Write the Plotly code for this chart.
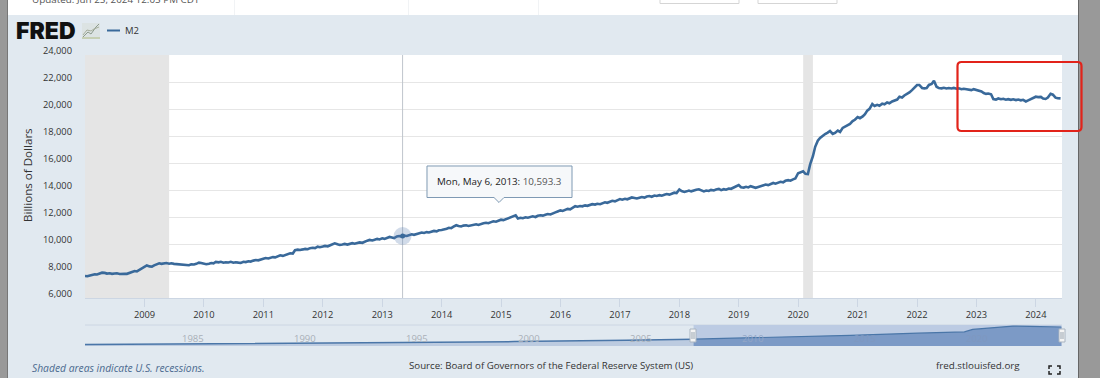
import pandas as pd
import plotly.graph_objects as go

# ---------- data ----------
m2_values = [
 7630,7610,7670,7710,7760,7740,7810,7875,7860,7810,7830,7790,7820,7830,7780,7810,7800,7790,7850,7890,8000,7970,8090,8220,
 8370,8410,8340,8320,8420,8510,8570,8530,8560,8590,8540,8570,8530,8510,8540,8500,8440,8470,8430,8490,8480,8530,8620,8590,
 8560,8500,8540,8590,8570,8670,8640,8680,8610,8650,8630,8680,8610,8650,8620,8600,8680,8660,8720,8700,8770,8810,8790,8850,
 8900,8960,8930,8980,9030,9010,9090,9160,9120,9190,9260,9310,9290,9540,9580,9560,9600,9640,9610,9690,9720,9700,9800,9760,
 9810,9860,9830,9900,9950,10050,9980,9930,9970,10010,9960,10030,10060,10020,10090,10120,10090,10180,10250,10300,10260,10310,10380,10340,
 10420,10380,10470,10520,10480,10440,10560,10593,10560,10620,10590,10660,10720,10680,10750,10790,10850,10820,10880,10850,10930,10970,10940,11020,
 11040,11070,11130,11200,11170,11280,11390,11340,11300,11360,11390,11340,11400,11430,11460,11410,11490,11530,11570,11540,11620,11680,11650,11730,
 11800,11770,11860,11930,11990,12060,12120,11890,11940,11910,11980,11950,12010,12050,12000,12090,12130,12100,12170,12220,12190,12280,12340,12410,
 12490,12450,12530,12600,12570,12680,12800,12760,12810,12790,12860,12830,12900,12950,12920,12980,12950,13030,13090,13050,13130,13200,13160,13260,
 13330,13280,13350,13310,13400,13450,13410,13370,13430,13480,13440,13520,13550,13500,13590,13560,13620,13580,13650,13700,13660,13740,13800,13770,
 14040,13920,13860,13900,13960,13900,13980,14020,14050,13980,13900,13960,13930,14010,13970,14030,14080,13990,14060,14020,14110,14090,14180,14260,
 14370,14210,14180,14240,14190,14280,14230,14160,14220,14290,14340,14400,14360,14450,14520,14470,14560,14610,14570,14680,14730,14690,14790,14850,
 15240,15330,15380,15200,15180,15900,16500,17200,17650,17850,18040,18150,18250,18370,18150,18230,18400,18300,18600,18700,18850,18900,19100,19200,
 19400,19320,19450,19620,19880,20010,20370,20220,20310,20240,20400,20350,20480,20420,20560,20620,20700,20910,20850,21000,21100,21230,21400,21600,
 21780,21780,21560,21530,21560,21780,21850,22090,21650,21550,21530,21570,21520,21550,21520,21560,21500,21530,21470,21500,21450,21430,21400,21470,
 21420,21390,21300,21180,21120,21150,21090,20740,20700,20780,20720,20760,20690,20730,20680,20720,20660,20700,20640,20680,20560,20640,20730,20790,
 20910,20880,20900,20770,20740,20850,21130,21060,20840,20800,20790,
]
m2_dates = pd.date_range("2008-01-01", periods=len(m2_values), freq="SMS")

overview_dates = ["1980-11-03","1985-01-01","1990-01-01","1995-01-01","2000-01-01","2005-01-01","2008-01-01"]
overview_values = [1600,2400,3200,3600,4800,6400,7500]
selected_dates = ["2008-01-01","2010-01-01","2012-01-01","2015-01-01","2018-01-01","2020-02-01","2020-06-15","2021-01-01","2022-04-01","2023-01-01","2024-06-01"]
selected_values = [7500,8500,9800,11700,14000,15400,18200,19400,21800,21400,20800]
nav_labels = ["1985","1990","1995","2000","2005","2010","2015","2020"]
nav_label_dates = ["1985-01-01","1990-01-01","1995-01-01","2000-01-01","2005-01-01","2010-01-01","2015-01-01","2020-01-01"]
nav_label_colors = ["#A9B0B8","#A9B0B8","#A9B0B8","#A9B0B8","#A9B0B8","#93A6C6","#7F98C0","#7F98C0"]

recessions = [("2008-01-01","2009-06-01"),("2020-02-01","2020-04-01")]
y_ticks = [6000,8000,10000,12000,14000,16000,18000,20000,22000,24000]
y_range = [6000, 24000]
x_ticks = [f"{y}-01-01" for y in range(2009,2025)]
x_labels = [str(y) for y in range(2009,2025)]
hover_date = "2013-05-06"
hover_value = 10593.3

# ---------- helpers ----------
W, H = 1100, 378
FONT = "Open Sans"
BG = "#E1E9F0"
LINE = "#39699A"
px = lambda x: x / W
py = lambda y: 1 - y / H

def rect(x0, y0, x1, y1, fill, line=None, lw=0, layer="below"):
    return dict(type="rect", xref="paper", yref="paper", x0=px(x0), x1=px(x1), y0=py(y0), y1=py(y1),
                fillcolor=fill, line=dict(color=line or fill, width=lw), layer=layer)

def poly(points, stroke, lw=1, fill=None, close=False, layer="above"):
    p = "M " + " L ".join(f"{px(a):.5f} {py(b):.5f}" for a, b in points) + (" Z" if close else "")
    return dict(type="path", xref="paper", yref="paper", path=p, fillcolor=fill,
                line=dict(color=stroke, width=lw), layer=layer)

def txt(x, y, text, size=10.5, color="#333333", anchor="left", **font):
    return dict(xref="paper", yref="paper", x=px(x), y=py(y), text=text, showarrow=False, xanchor=anchor,
                yanchor="middle", font=dict(family=font.pop("family", FONT), size=size, color=color, **font),
                borderpad=0, borderwidth=0)

fig = go.Figure()

# navigator
fig.add_trace(go.Scatter(x=overview_dates, y=overview_values, xaxis="x2", yaxis="y2", mode="lines",
                         line=dict(color="#4A76A8", width=1.5), fill="tozeroy",
                         fillcolor="rgba(120,150,195,0.35)", hoverinfo="skip", showlegend=False))
fig.add_trace(go.Scatter(x=selected_dates, y=selected_values, xaxis="x2", yaxis="y2", mode="lines",
                         line=dict(color="#4A76A8", width=1.2), fill="tozeroy",
                         fillcolor="#7C9AC6", hoverinfo="skip", showlegend=False))
# main series
fig.add_trace(go.Scatter(x=m2_dates, y=m2_values, mode="lines", name="M2",
                         line=dict(color=LINE, width=2.6), showlegend=False))
fig.add_trace(go.Scatter(x=[hover_date], y=[hover_value], mode="markers", showlegend=False, hoverinfo="skip",
                         marker=dict(size=18, color="rgba(90,125,175,0.28)")))
fig.add_trace(go.Scatter(x=[hover_date], y=[hover_value], mode="markers", showlegend=False, hoverinfo="skip",
                         marker=dict(size=5, color=LINE)))

shapes = [
    rect(0, 0, W, 15, "#FFFFFF"),
    rect(0, 0, 7, H, "#999999"),
    rect(1079, 0, W, H, "#999999"),
    rect(7, 0, 8, H, "#777777"),
    rect(1078, 0, 1079, H, "#666666"),
    rect(234.5, 0, 235, 15, "#E4E8EC"),
    rect(408.5, 0, 409, 15, "#E4E8EC"),
    rect(538.5, 0, 539, 15, "#E4E8EC"),
    dict(type="rect", xref="paper", yref="paper", x0=px(660), x1=px(739), y0=py(3.5), y1=py(-6),
         fillcolor="#FFFFFF", line=dict(color="#D5D5D5", width=1), layer="below"),
    dict(type="rect", xref="paper", yref="paper", x0=px(758), x1=px(837), y0=py(3.5), y1=py(-6),
         fillcolor="#FFFFFF", line=dict(color="#D5D5D5", width=1), layer="below"),
    rect(85, 55, 1062, 298, "#FFFFFF"),
    poly([(85, 325), (1062, 325)], "#CCD6E3", 1, layer="below"),
]
for a, b in recessions:
    shapes.append(dict(type="rect", xref="x", yref="y", x0=a, x1=b, y0=y_range[0], y1=y_range[1],
                       fillcolor="#E5E5E5", line=dict(width=0), layer="between"))
# crosshair
shapes.append(dict(type="line", xref="x", yref="y", x0=hover_date, x1=hover_date, y0=y_range[0], y1=y_range[1],
                   line=dict(color="#BFC5CC", width=1), layer="between"))
# navigator selection band
shapes.append(dict(type="rect", xref="x2", yref="y2", x0=selected_dates[0], x1=selected_dates[-1], y0=0, y1=23000,
                   fillcolor="#BCCBE3", line=dict(width=0), layer="between"))
# navigator handles
for hx in (693, 1062):
    shapes.append(rect(hx - 3, 329, hx + 3, 342, "#F4F4F4", "#A9B4C0", 1, "above"))
    shapes.append(poly([(hx - 1, 332), (hx - 1, 339)], "#9AA6B2", 1))
    shapes.append(poly([(hx + 1, 332), (hx + 1, 339)], "#9AA6B2", 1))
# legend key
shapes.append(poly([(107, 30.5), (120, 30.5)], LINE, 2))
# logo icon
shapes.append(rect(82, 23, 100, 39, "#DCE3E3", layer="above"))
shapes.append(poly([(83, 37), (88, 32), (91, 34), (96, 27), (99, 24)], "#8C9A8C", 1))
shapes.append(poly([(83, 35), (87, 30), (91, 31), (94, 29), (99, 27)], "#A6AE9C", 1))
shapes.append(rect(82, 37, 100, 39, "#C6CFB4", layer="above"))
# tooltip
shapes.append(poly([(427, 166), (572, 166), (572, 197.5), (504, 197.5), (499, 202.5), (494, 197.5), (427, 197.5)],
                   "#7F9AB4", 1, fill="#F6F8FA", close=True))
# fullscreen icon
for pts in ([(1049, 369), (1049, 366), (1052, 366)], [(1057, 366), (1060, 366), (1060, 369)],
            [(1049, 371), (1049, 374), (1052, 374)], [(1057, 374), (1060, 374), (1060, 371)]):
    shapes.append(poly(pts, "#222222", 1.5))
# highlight box
x0, x1, y0, y1, r = 957.5, 1081.5, 62, 131, 4
shapes.append(dict(type="path", xref="paper", yref="paper", layer="above", line=dict(color="#E2231A", width=2.2),
    path=(f"M {px(x0+r)} {py(y0)} L {px(x1-r)} {py(y0)} Q {px(x1)} {py(y0)} {px(x1)} {py(y0+r)} "
          f"L {px(x1)} {py(y1-r)} Q {px(x1)} {py(y1)} {px(x1-r)} {py(y1)} L {px(x0+r)} {py(y1)} "
          f"Q {px(x0)} {py(y1)} {px(x0)} {py(y1-r)} L {px(x0)} {py(y0+r)} Q {px(x0)} {py(y0)} {px(x0+r)} {py(y0)} Z")))

annotations = [
    txt(32, -1, "Updated: Jun 25, 2024 12:05 PM CDT", 9.85, "#555555"),
    txt(16, 31, "FRED", 23, "#111111", family="Inter", weight=900),
    txt(124.5, 31, "M2", 9.5, "#333333"),
    txt(437, 181, 'Mon, May 6, 2013: <span style="color:#555">10,593.3</span>', 9.8, "#222222"),
    txt(32, 368, "<i>Shaded areas indicate U.S. recessions.</i>", 10.3, "#4B6A8F"),
    txt(551, 365.5, "Source: Board of Governors of the Federal Reserve System (US)", 9.7, "#333333", anchor="center"),
    txt(936, 365.5, "fred.stlouisfed.org", 9.8, "#333333"),
]
ylab = txt(27, 175, "Billions of Dollars", 11.6, "#333333", anchor="center")
ylab["textangle"] = -90
annotations.append(ylab)
for lab, d, c in zip(nav_labels, nav_label_dates, nav_label_colors):
    annotations.append(dict(xref="x2", yref="paper", x=d, y=py(338.5), text=lab, showarrow=False, xanchor="left", xshift=2,
                            yanchor="middle", font=dict(family=FONT, size=9.5, color=c)))

fig.update_layout(
    width=W, height=H, autosize=False, margin=dict(l=0, r=0, t=0, b=0, pad=0, autoexpand=False),
    paper_bgcolor=BG, plot_bgcolor="rgba(0,0,0,0)", font=dict(family=FONT, size=9.3, color="#333333"),
    showlegend=False, shapes=shapes, annotations=annotations, hovermode=False,
    xaxis=dict(domain=[px(85), px(1062)], type="date", range=["2008-01-01", "2024-06-10"],
               tickmode="array", tickvals=x_ticks, ticktext=x_labels, ticks="outside", ticklen=8,
               tickcolor="#CCD6E3", tickwidth=1, showgrid=False, showline=True, linecolor="#CCD6E3", linewidth=1,
               tickfont=dict(family=FONT, size=9.3, color="#333333"), zeroline=False),
    yaxis=dict(domain=[py(298), py(55)], range=y_range, tickmode="array", tickvals=y_ticks,
               tickformat=",", showgrid=True, gridcolor="#E6E6E6", gridwidth=1, zeroline=False, showline=False,
               ticks="", ticklabelstandoff=12, ticklabelshift=-4,
               tickfont=dict(family=FONT, size=9.3, color="#333333")),
    xaxis2=dict(domain=[px(85), px(1062)], type="date", range=["1980-11-03", "2024-06-10"], anchor="y2",
                showgrid=False, showticklabels=False, ticks="", showline=False, zeroline=False),
    yaxis2=dict(domain=[py(346), py(325)], range=[0, 23000], anchor="x2", showgrid=False, showticklabels=False,
                ticks="", showline=False, zeroline=False),
)

fig.write_html("out.html", config=dict(displayModeBar=False),
               post_script="document.body.style.margin='0';document.body.style.overflow='hidden';")
